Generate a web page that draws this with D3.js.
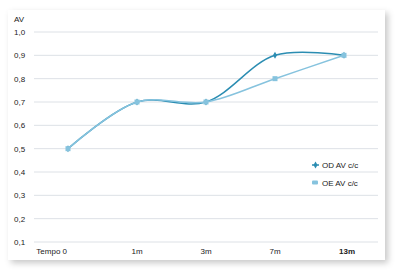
<!DOCTYPE html>
<html>
<head>
<meta charset="utf-8">
<script src="https://cdn.jsdelivr.net/npm/d3@7"></script>
<style>
  body { margin: 0; background: #fff; }
  svg { display: block; font-family: "Liberation Sans", Arial, sans-serif; }
</style>
</head>
<body>
<svg id="chart"></svg>
<script>
// data
var categories = ['Tempo 0', '1m', '3m', '7m', '13m'];
var odValues = [0.5, 0.7, 0.7, 0.9, 0.9];
var oeValues = [0.5, 0.7, 0.7, 0.8, 0.9];
var yTicks = [0.1, 0.2, 0.3, 0.4, 0.5, 0.6, 0.7, 0.8, 0.9, 1.0];
var seriesNames = ['OD AV c/c', 'OE AV c/c'];

var width = 397, height = 272;
var darkColor = '#2b8db2', lightColor = '#86c3de';

var svg = d3.select('#chart').attr('width', width).attr('height', height);

// card + shadow
var defs = svg.append('defs');
var f = defs.append('filter').attr('id', 'shadow').attr('x', '-5%').attr('y', '-5%').attr('width', '115%').attr('height', '120%');
f.append('feDropShadow').attr('dx', 3).attr('dy', 3).attr('stdDeviation', 3).attr('flood-color', '#000').attr('flood-opacity', 0.22);
svg.append('rect')
    .attr('x', 8).attr('y', 10).attr('width', 377).attr('height', 250)
    .attr('fill', '#fff').attr('filter', 'url(#shadow)');

var x = d3.scalePoint().domain(categories).range([68, 344]);
var y = d3.scaleLinear().domain([0.1, 1.0]).range([242, 32]);

// gridlines
svg.append('g').selectAll('line').data(yTicks).enter().append('line')
    .attr('x1', 34).attr('x2', 378)
    .attr('y1', function (d) { return y(d); })
    .attr('y2', function (d) { return y(d); })
    .attr('stroke', '#dde1e6').attr('stroke-width', 1);

// y labels
svg.append('g').selectAll('text').data(yTicks).enter().append('text')
    .attr('x', 14)
    .attr('y', function (d) { return y(d) + 3; })
    .attr('font-size', 8).attr('fill', '#222')
    .text(function (d) { return d3.format('.1f')(d).replace('.', ','); });

svg.append('text').attr('x', 14).attr('y', 22).attr('font-size', 8).attr('fill', '#222').text('AV');

// x labels
svg.append('g').selectAll('text').data(categories).enter().append('text')
    .attr('x', function (d, i) { return i === 0 ? x(d) - 1 : x(d) + (i === 4 ? 3 : 0); })
    .attr('y', 254)
    .attr('text-anchor', function (d, i) { return i === 0 ? 'end' : 'middle'; })
    .attr('font-size', 8).attr('fill', '#222')
    .attr('font-weight', function (d, i) { return i === 4 ? 'bold' : 'normal'; })
    .text(function (d) { return d; });

var line = d3.line()
    .x(function (d, i) { return x(categories[i]); })
    .y(function (d) { return y(d); })
    .curve(d3.curveCatmullRom.alpha(0.5));

// OD below, OE on top
svg.append('path').datum(odValues).attr('d', line)
    .attr('fill', 'none').attr('stroke', darkColor).attr('stroke-width', 1.5);
svg.append('g').selectAll('path').data(odValues).enter().append('path')
    .attr('d', d3.symbol().type(d3.symbolDiamond).size(14))
    .attr('transform', function (d, i) { return 'translate(' + x(categories[i]) + ',' + y(d) + ')'; })
    .attr('fill', darkColor);

svg.append('path').datum(oeValues).attr('d', line)
    .attr('fill', 'none').attr('stroke', lightColor).attr('stroke-width', 1.5);
svg.append('g').selectAll('rect').data(oeValues).enter().append('rect')
    .attr('x', function (d, i) { return x(categories[i]) - 2.5; })
    .attr('y', function (d) { return y(d) - 2.5; })
    .attr('width', 5).attr('height', 5).attr('fill', lightColor);

// legend
var legend = svg.append('g');
legend.append('line').attr('x1', 312).attr('x2', 319).attr('y1', 165).attr('y2', 165).attr('stroke', darkColor).attr('stroke-width', 1.5);
legend.append('path').attr('d', d3.symbol().type(d3.symbolDiamond).size(14)).attr('transform', 'translate(315.5,165)').attr('fill', darkColor);
legend.append('rect').attr('x', 312).attr('y', 180.5).attr('width', 6).attr('height', 4).attr('rx', 1).attr('fill', lightColor);
legend.selectAll('text').data(seriesNames).enter().append('text')
    .attr('x', 322)
    .attr('y', function (d, i) { return 168 + i * 18; })
    .attr('font-size', 8).attr('fill', '#222')
    .text(function (d) { return d; });
</script>
</body>
</html>
